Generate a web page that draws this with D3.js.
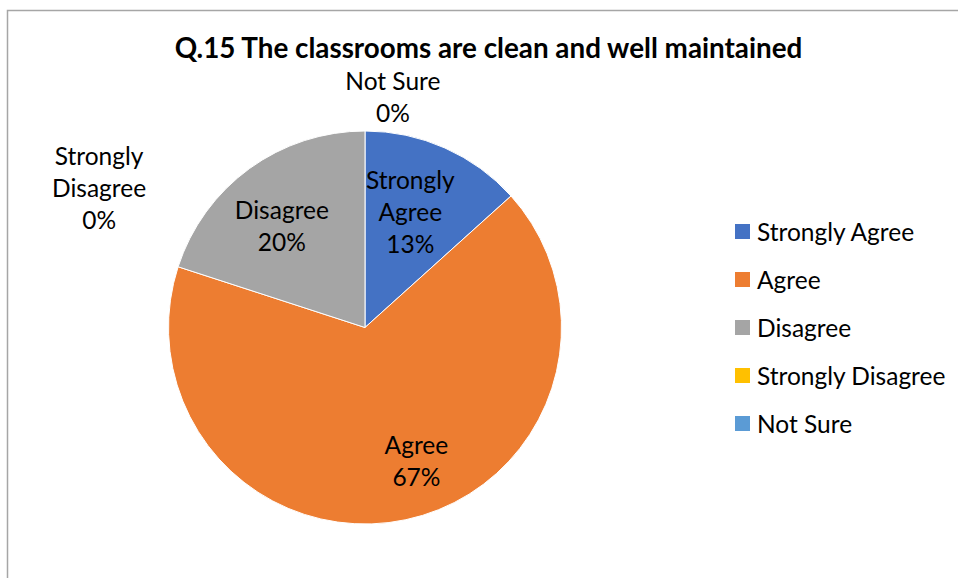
<!DOCTYPE html>
<html>
<head>
<meta charset="utf-8">
<script src="https://cdn.jsdelivr.net/npm/d3@7"></script>
<style>
  html, body { margin: 0; padding: 0; background: #fff; }
  svg { display: block; }
  text { font-family: Lato, "Open Sans", sans-serif; fill: #000; }
</style>
</head>
<body>
<svg id="chart" width="958" height="578"></svg>
<script>
// ---- data ----
const title = "Q.15 The classrooms are clean and well maintained";
const categories = ["Strongly Agree", "Agree", "Disagree", "Strongly Disagree", "Not Sure"];
const values = [13.33, 66.67, 20, 0, 0];
const colors = ["#4472C4", "#ED7D31", "#A5A5A5", "#FFC000", "#5B9BD5"];

// ---- layout ----
const W = 958, H = 578;
const cx = 365, cy = 327.5, R = 196.5;
const fontSize = 24.5;
const lineH = 32;

const svg = d3.select("#chart");

// chart area border
svg.append("rect")
  .attr("x", 7.5).attr("y", 10.5)
  .attr("width", W + 10).attr("height", H + 10)
  .attr("fill", "none").attr("stroke", "#a6a6a6").attr("stroke-width", 1.5);

// title
svg.append("text")
  .attr("x", 488.5).attr("y", 58)
  .attr("text-anchor", "middle")
  .attr("font-weight", "bold")
  .attr("font-size", 27.8)
  .text(title);

const data = categories.map((c, i) => ({ name: c, value: values[i], color: colors[i] }));
const pie = d3.pie().value(d => d.value).sort(null);
const arcs = pie(data);
const arc = d3.arc().innerRadius(0).outerRadius(R);

const g = svg.append("g").attr("transform", `translate(${cx},${cy})`);
g.selectAll("path.slice")
  .data(arcs.filter(a => a.data.value > 0))
  .join("path")
  .attr("class", "slice")
  .attr("d", arc)
  .attr("fill", d => d.data.color)
  .attr("stroke", "#fff")
  .attr("stroke-width", 1);

// data labels: inside slices via centroid, zero-value ones pushed outward
const fmt = v => Math.round(v) + "%";
// label placement tweaks (angle offset in degrees, radius factor) per category, for best-fit look
const labelPlace = {
  "Strongly Agree": { da: -2.5, rf: 0.63 },
  "Agree": { da: -9, rf: 0.73 },
  "Disagree": { da: -3.5, rf: 0.665 },
  "Strongly Disagree": { da: -62.4, rf: 1.527 },
  "Not Sure": { da: 6.9, rf: 1.18 }
};
const lines = d => {
  const n = d.data.name;
  if (n === "Strongly Agree") return ["Strongly", "Agree", fmt(d.data.value)];
  if (n === "Strongly Disagree") return ["Strongly", "Disagree", fmt(d.data.value)];
  return [n, fmt(d.data.value)];
};
arcs.forEach(d => {
  const p = labelPlace[d.data.name];
  const mid = (d.startAngle + d.endAngle) / 2 + p.da * Math.PI / 180;
  const r = R * p.rf;
  const x = Math.sin(mid) * r, y = -Math.cos(mid) * r;
  const ls = lines(d);
  const t = g.append("text")
    .attr("text-anchor", "middle")
    .attr("font-size", fontSize);
  const y0 = y - (ls.length - 1) * lineH / 2 + fontSize * 0.35;
  ls.forEach((s, i) => {
    t.append("tspan").attr("x", x).attr("y", y0 + i * lineH).text(s);
  });
});

// legend
const lg = svg.append("g").attr("transform", "translate(735,224)");
const items = lg.selectAll("g.item").data(data).join("g")
  .attr("class", "item")
  .attr("transform", (d, i) => `translate(0,${i * 48})`);
items.append("rect").attr("width", 15).attr("height", 15).attr("fill", d => d.color);
items.append("text").attr("x", 22).attr("y", 16.5).attr("font-size", fontSize).text(d => d.name);
</script>
</body>
</html>
